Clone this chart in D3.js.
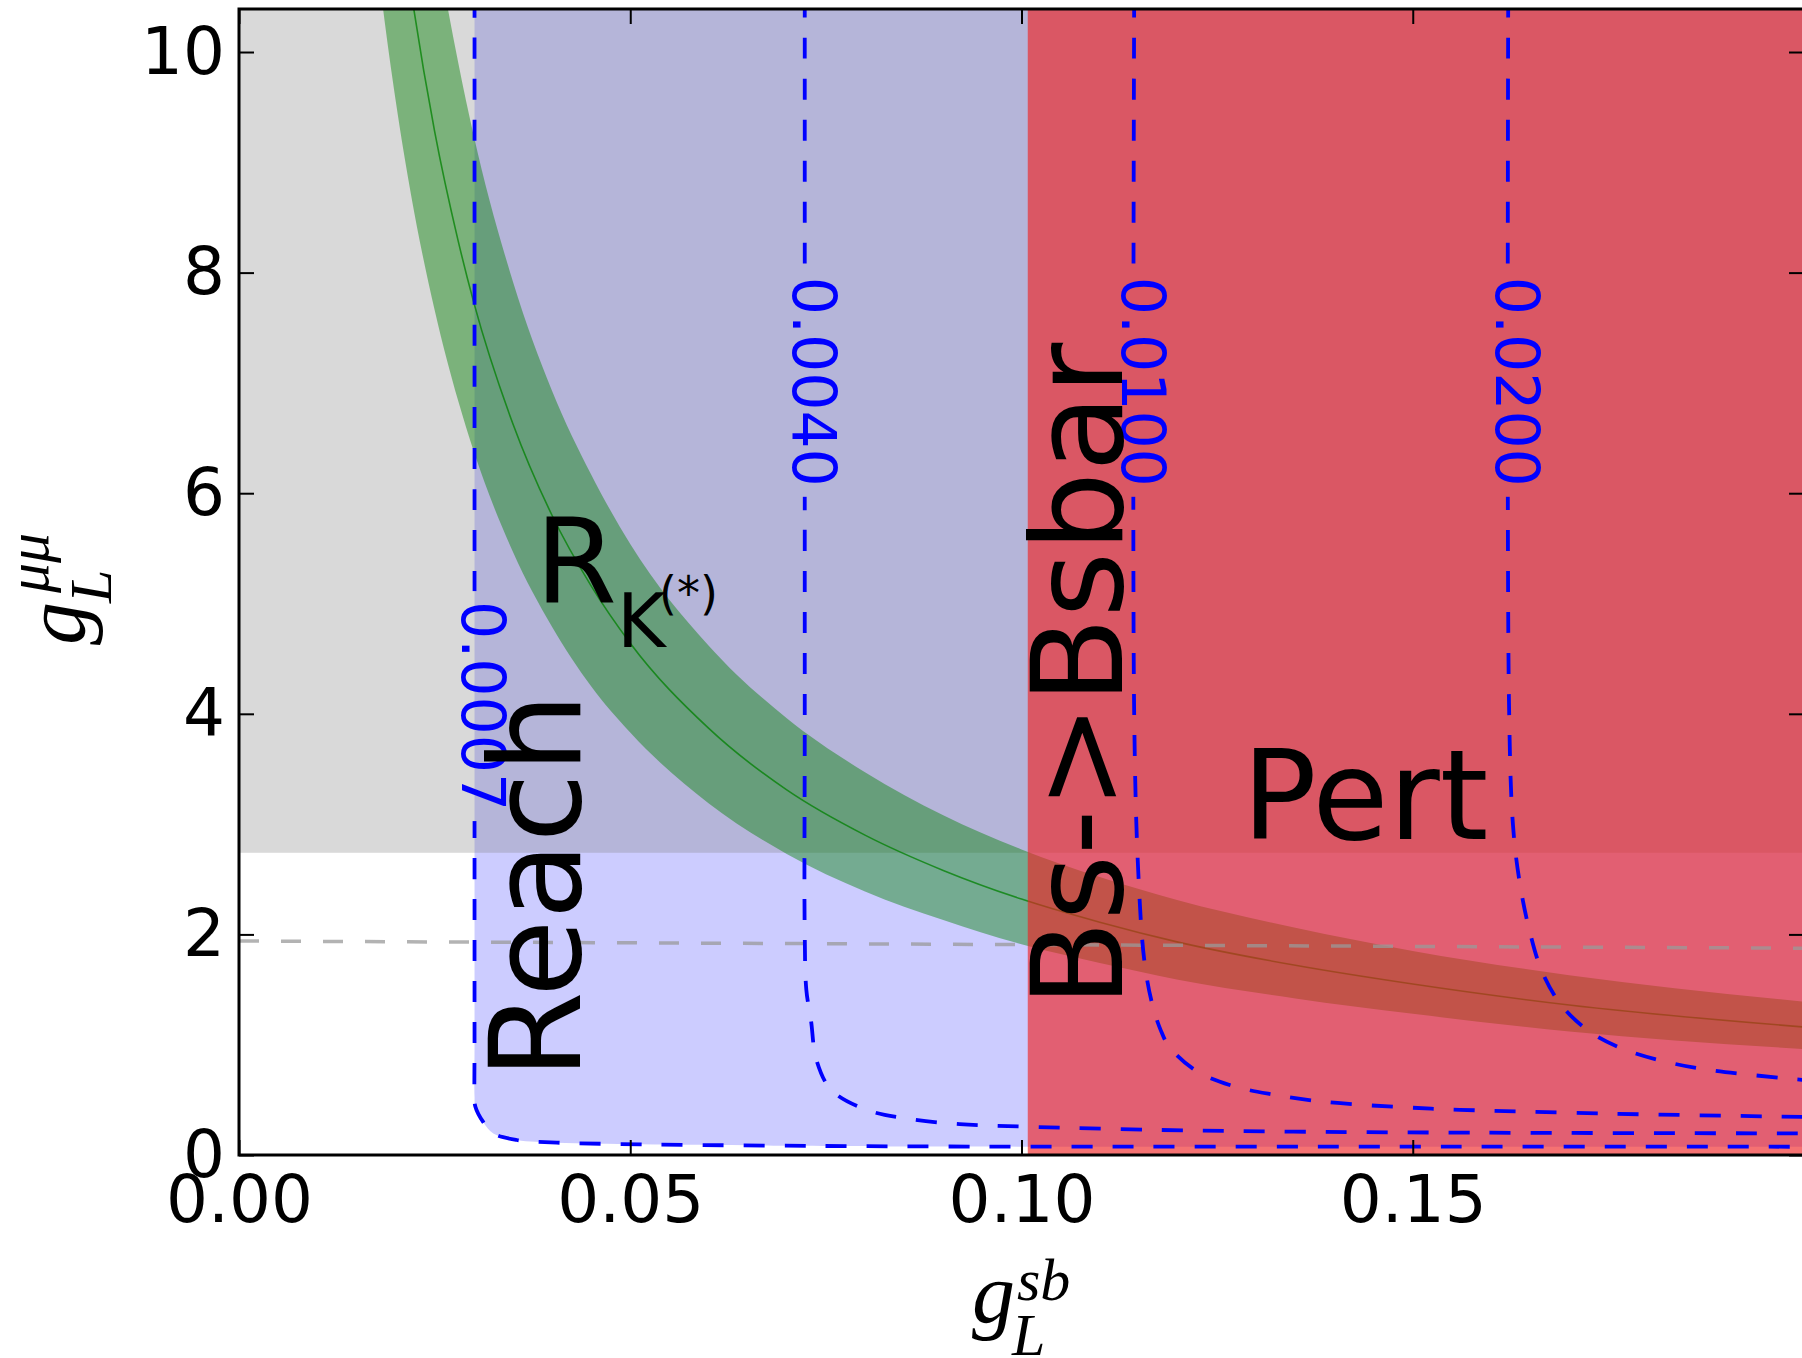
<!DOCTYPE html>
<html>
<head>
<meta charset="utf-8">
<script src="https://cdn.jsdelivr.net/npm/d3@7/dist/d3.min.js"></script>
<style>
  body { margin: 0; background: #fff; }
  svg { display: block; }
</style>
</head>
<body>
<svg id="chart" width="1802" height="1358"></svg>
<script>
// values
const xTicks = [0, 0.05, 0.10, 0.15];
const yTicks = [0, 2, 4, 6, 8, 10];
const yMax = 10.39;
const perturbFloor = 2.74;      // grey band lower edge (g_L^mumu)
const bsMixingEdge = 0.1008;    // Bs->Bsbar excluded for g_L^sb above this

// R_K(*) preferred band
const bandX = [0.016, 0.018, 0.020, 0.022, 0.025, 0.028, 0.030, 0.035, 0.040, 0.045, 0.050,
  0.060, 0.070, 0.080, 0.090, 0.100, 0.110, 0.120, 0.135, 0.150, 0.170, 0.200];
const bandMid = [14.5, 12.89, 11.6, 10.55, 9.28, 8.29, 7.73, 6.63, 5.80, 5.16, 4.64,
  3.87, 3.31, 2.90, 2.58, 2.32, 2.11, 1.93, 1.72, 1.55, 1.36, 1.16];
const bandLow = [11.96, 10.63, 9.57, 8.70, 7.66, 6.84, 6.38, 5.47, 4.79, 4.25, 3.83,
  3.19, 2.73, 2.39, 2.13, 1.91, 1.74, 1.59, 1.42, 1.28, 1.12, 0.96];
const bandHigh = [17.3, 15.4, 13.86, 12.6, 11.09, 9.91, 9.24, 7.92, 6.93, 6.17, 5.54,
  4.62, 3.96, 3.47, 3.08, 2.77, 2.52, 2.31, 2.06, 1.85, 1.63, 1.39];

// reach contours
const contourLevels = ['0.0007', '0.0040', '0.0100', '0.0200'];
const contour0007 = [[0.0301, 10.5], [0.0301, 4.0], [0.0301, 1.0], [0.0301, 0.53], [0.0302, 0.44],
  [0.0312, 0.30], [0.0325, 0.196], [0.0355, 0.136], [0.0406, 0.112], [0.0513, 0.097],
  [0.0683, 0.085], [0.0904, 0.077], [0.156, 0.0755], [0.2, 0.075]];
const contour0040 = [[0.0723, 10.5], [0.0723, 4.0], [0.0723, 2.0], [0.0725, 1.5], [0.0731, 1.22],
  [0.0738, 0.86], [0.0757, 0.59], [0.0802, 0.41], [0.0853, 0.33], [0.0921, 0.28],
  [0.1006, 0.257], [0.1176, 0.227], [0.1347, 0.212], [0.156, 0.203], [0.2, 0.196]];
const contour0100 = [[0.1144, 10.5], [0.1144, 4.0], [0.1149, 2.6], [0.1157, 1.76], [0.1167, 1.37],
  [0.1178, 1.13], [0.1189, 0.98], [0.1224, 0.76], [0.1268, 0.63], [0.1320, 0.55],
  [0.139, 0.48], [0.1496, 0.43], [0.156, 0.41], [0.175, 0.375], [0.2, 0.345]];
const contour0200 = [[0.1622, 10.5], [0.1623, 4.1], [0.1628, 3.0], [0.1636, 2.5], [0.1649, 2.04],
  [0.1666, 1.65], [0.1692, 1.34], [0.173, 1.10], [0.1773, 0.95], [0.1823, 0.846],
  [0.1879, 0.77], [0.2, 0.68]];
const contours = [contour0007, contour0040, contour0100, contour0200];
const contourLabelX = [0.0300, 0.0723, 0.1144, 0.1622];
const contourLabelY = [4.07, 7.01, 7.01, 7.01];

// grey dashed reference line
const refLine = [[0, 1.94], [0.2, 1.875]];

// text annotations in data coordinates
const annotations = [
  { text: 'Reach', x: 0.04358, y: 0.689, size: 126, rot: -90 },
  { text: 'Bs->Bsbar', x: 0.11284, y: 1.342, size: 126, rot: -90 },
  { text: 'Pert', x: 0.12818, y: 2.865, size: 124, rot: 0 },
  { text: 'R', x: 0.03783, y: 5.014, size: 118, rot: 0 },
  { text: 'K', x: 0.04831, y: 4.606, size: 74, rot: 0 },
  { text: '(*)', x: 0.05367, y: 4.950, size: 46, rot: 0 },
];

const width = 1802;
const height = 1358;
const plotLeft = 239;
const plotRight = 1804;
const plotTop = 9;
const plotBottom = 1155;
const tickLen = 15;
const sans = 'DejaVu Sans, sans-serif';
const serif = 'Liberation Serif, DejaVu Serif, serif';

const x = d3.scaleLinear().domain([0, 0.2]).range([plotLeft, plotRight]);
const y = d3.scaleLinear().domain([0, yMax]).range([plotBottom, plotTop]);

const svg = d3.select('#chart');
const defs = svg.append('defs');

defs.append('clipPath').attr('id', 'plot-clip')
  .append('rect')
  .attr('x', plotLeft).attr('y', plotTop)
  .attr('width', plotRight - plotLeft).attr('height', plotBottom - plotTop);

// gaps in the contour lines where the labels sit
const mask = defs.append('mask').attr('id', 'label-gaps')
  .attr('maskUnits', 'userSpaceOnUse')
  .attr('x', 0).attr('y', 0).attr('width', width).attr('height', height);
mask.append('rect').attr('width', width).attr('height', height).attr('fill', '#fff');
mask.selectAll('.gap')
  .data(contourLevels)
  .join('rect')
  .attr('class', 'gap')
  .attr('x', (d, i) => x(contourLabelX[i]) - 22)
  .attr('y', (d, i) => y(contourLabelY[i]) - 115)
  .attr('width', 44)
  .attr('height', 230)
  .attr('fill', '#000');

const plot = svg.append('g').attr('clip-path', 'url(#plot-clip)');

const contourLine = d3.line()
  .x((d) => x(d[0]))
  .y((d) => y(d[1]))
  .curve(d3.curveCatmullRom.alpha(0.5));

// reachable region (inside lowest contour)
const reachPath = contourLine(contour0007)
  + `L${x(0.2) + 10},${y(contour0007[contour0007.length - 1][1])}`
  + `L${x(0.2) + 10},${y(yMax) - 10}`
  + `L${x(contour0007[0][0])},${y(yMax) - 10}Z`;
plot.append('path')
  .attr('d', reachPath)
  .attr('fill', 'blue')
  .attr('fill-opacity', 0.2);

// perturbativity band
plot.append('rect')
  .attr('x', x(0))
  .attr('y', y(yMax))
  .attr('width', x(0.2) - x(0))
  .attr('height', y(perturbFloor) - y(yMax))
  .attr('fill', '#808080')
  .attr('fill-opacity', 0.3);

// R_K(*) band
const bandRows = bandX.map((v, i) => ({ x: v, mid: bandMid[i], low: bandLow[i], high: bandHigh[i] }));
plot.append('path')
  .datum(bandRows)
  .attr('d', d3.area()
    .x((d) => x(d.x))
    .y0((d) => y(d.low))
    .y1((d) => y(d.high))
    .curve(d3.curveMonotoneX))
  .attr('fill', 'green')
  .attr('fill-opacity', 0.43);
plot.append('path')
  .datum(bandRows)
  .attr('d', d3.line()
    .x((d) => x(d.x))
    .y((d) => y(d.mid))
    .curve(d3.curveMonotoneX))
  .attr('fill', 'none')
  .attr('stroke', 'green')
  .attr('stroke-opacity', 0.75)
  .attr('stroke-width', 1.6);

// Bs mixing exclusion
plot.append('rect')
  .attr('x', x(bsMixingEdge))
  .attr('y', y(yMax))
  .attr('width', x(0.2) - x(bsMixingEdge) + 5)
  .attr('height', y(0) - y(yMax))
  .attr('fill', '#ef2020')
  .attr('fill-opacity', 0.63);

// grey dashed reference
plot.append('path')
  .datum(refLine)
  .attr('d', d3.line().x((d) => x(d[0])).y((d) => y(d[1])))
  .attr('fill', 'none')
  .attr('stroke', '#9a9a9a')
  .attr('stroke-opacity', 0.75)
  .attr('stroke-width', 3.5)
  .attr('stroke-dasharray', '20,22');

// reach contours
plot.append('g')
  .attr('mask', 'url(#label-gaps)')
  .selectAll('path')
  .data(contours)
  .join('path')
  .attr('d', contourLine)
  .attr('fill', 'none')
  .attr('stroke', 'blue')
  .attr('stroke-width', 3.8)
  .attr('stroke-dasharray', '21,20');

plot.append('g')
  .selectAll('text')
  .data(contourLevels)
  .join('text')
  .attr('transform', (d, i) => `translate(${x(contourLabelX[i]) - 12},${y(contourLabelY[i])}) rotate(90)`)
  .attr('text-anchor', 'middle')
  .attr('font-family', sans)
  .attr('font-size', 60)
  .attr('fill', 'blue')
  .text((d) => d);

// big annotations
svg.append('g')
  .selectAll('text')
  .data(annotations)
  .join('text')
  .attr('transform', (d) => `translate(${x(d.x)},${y(d.y)}) rotate(${d.rot})`)
  .attr('font-family', sans)
  .attr('font-size', (d) => d.size)
  .attr('fill', '#000')
  .text((d) => d.text);

// axes, ticks pointing inward on all four sides
const fmtX = d3.format('.2f');
const styleAxis = (g) => {
  g.select('.domain').remove();
  g.selectAll('.tick line').attr('stroke', '#000').attr('stroke-width', 2);
  g.selectAll('.tick text').attr('font-family', sans).attr('font-size', 66).attr('fill', '#000');
};

svg.append('g')
  .attr('transform', `translate(0,${plotBottom})`)
  .call(d3.axisBottom(x).tickValues(xTicks).tickFormat(fmtX).tickSizeInner(-tickLen).tickSizeOuter(0).tickPadding(20))
  .call(styleAxis);
svg.append('g')
  .attr('transform', `translate(0,${plotTop})`)
  .call(d3.axisTop(x).tickValues(xTicks).tickFormat('').tickSizeInner(-tickLen).tickSizeOuter(0))
  .call(styleAxis);
svg.append('g')
  .attr('transform', `translate(${plotLeft},0)`)
  .call(d3.axisLeft(y).tickValues(yTicks).tickFormat(d3.format('d')).tickSizeInner(-tickLen).tickSizeOuter(0).tickPadding(14))
  .call(styleAxis);
svg.append('g')
  .attr('transform', `translate(${plotRight},0)`)
  .call(d3.axisRight(y).tickValues(yTicks).tickFormat('').tickSizeInner(-tickLen).tickSizeOuter(0))
  .call(styleAxis);

svg.append('rect')
  .attr('x', plotLeft).attr('y', plotTop)
  .attr('width', plotRight - plotLeft).attr('height', plotBottom - plotTop)
  .attr('fill', 'none')
  .attr('stroke', '#000')
  .attr('stroke-width', 3);

// axis titles g_L^{sb} and g_L^{mu mu}
const mathLabel = (g, sup, supDx, supDy, subDx, subDy) => {
  g.append('text').attr('x', 0).attr('y', 0)
    .attr('font-family', serif).attr('font-style', 'italic').attr('font-size', 86).text('g');
  g.append('text').attr('x', subDx).attr('y', subDy)
    .attr('font-family', serif).attr('font-style', 'italic').attr('font-size', 60).text('L');
  g.append('text').attr('x', supDx).attr('y', supDy)
    .attr('font-family', serif).attr('font-style', 'italic').attr('font-size', 60).text(sup);
};
svg.append('g')
  .attr('transform', 'translate(972,1322)')
  .call(mathLabel, 'sb', 45, -22, 40, 33);
svg.append('g')
  .attr('transform', 'translate(84,645) rotate(-90)')
  .call(mathLabel, 'μμ', 52, -36, 42, 27);
</script>
</body>
</html>
